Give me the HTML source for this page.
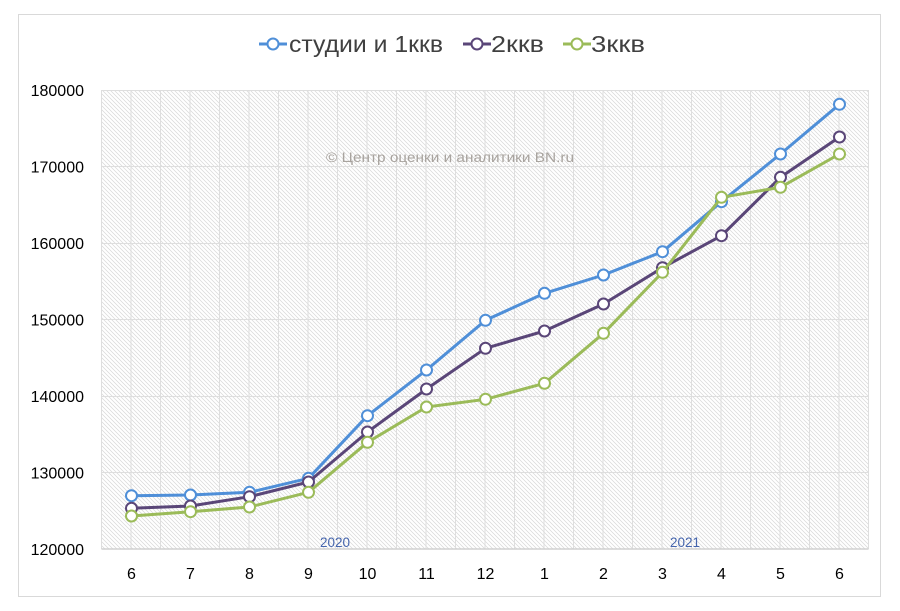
<!DOCTYPE html>
<html>
<head>
<meta charset="utf-8">
<style>
  html, body { margin: 0; padding: 0; background: #ffffff; }
  svg { display: block; }
  text { font-family: "Liberation Sans", "DejaVu Sans", sans-serif; }
</style>
</head>
<body>
<svg width="900" height="611" viewBox="0 0 900 611" xmlns="http://www.w3.org/2000/svg">
  <defs>
    <pattern id="hatch" patternUnits="userSpaceOnUse" width="4" height="4">
      <rect width="4" height="4" fill="#ffffff"/>
      <path d="M-1,-1 L5,5 M-1,3 L1,5 M3,-1 L5,1" stroke="#d8d8d8" stroke-width="0.75"/>
    </pattern>
  </defs>

  <!-- chart frame -->
  <rect x="18.5" y="14.5" width="862" height="582" fill="#ffffff" stroke="#d9d9d9" stroke-width="1"/>

  <!-- plot area -->
  <rect x="101.5" y="90" width="767" height="459" fill="url(#hatch)"/>

  <!-- gridlines -->
  <g stroke="#dedede" stroke-width="1">
    <line x1="101.5" y1="90.5" x2="868.5" y2="90.5"/>
    <line x1="101.5" y1="166.5" x2="868.5" y2="166.5"/>
    <line x1="101.5" y1="243.5" x2="868.5" y2="243.5"/>
    <line x1="101.5" y1="319.5" x2="868.5" y2="319.5"/>
    <line x1="101.5" y1="396.5" x2="868.5" y2="396.5"/>
    <line x1="101.5" y1="472.5" x2="868.5" y2="472.5"/>

    <line x1="101.5" y1="90" x2="101.5" y2="549"/>
    <line x1="131" y1="90" x2="131" y2="549"/>
    <line x1="160.5" y1="90" x2="160.5" y2="549"/>
    <line x1="190" y1="90" x2="190" y2="549"/>
    <line x1="219.5" y1="90" x2="219.5" y2="549"/>
    <line x1="249" y1="90" x2="249" y2="549"/>
    <line x1="278.5" y1="90" x2="278.5" y2="549"/>
    <line x1="308" y1="90" x2="308" y2="549"/>
    <line x1="337.5" y1="90" x2="337.5" y2="549"/>
    <line x1="367" y1="90" x2="367" y2="549"/>
    <line x1="396.5" y1="90" x2="396.5" y2="549"/>
    <line x1="426" y1="90" x2="426" y2="549"/>
    <line x1="455.5" y1="90" x2="455.5" y2="549"/>
    <line x1="485" y1="90" x2="485" y2="549"/>
    <line x1="514.5" y1="90" x2="514.5" y2="549"/>
    <line x1="544" y1="90" x2="544" y2="549"/>
    <line x1="573.5" y1="90" x2="573.5" y2="549"/>
    <line x1="603" y1="90" x2="603" y2="549"/>
    <line x1="632.5" y1="90" x2="632.5" y2="549"/>
    <line x1="662" y1="90" x2="662" y2="549"/>
    <line x1="691.5" y1="90" x2="691.5" y2="549"/>
    <line x1="721" y1="90" x2="721" y2="549"/>
    <line x1="750.5" y1="90" x2="750.5" y2="549"/>
    <line x1="780" y1="90" x2="780" y2="549"/>
    <line x1="809.5" y1="90" x2="809.5" y2="549"/>
    <line x1="839" y1="90" x2="839" y2="549"/>
    <line x1="868.5" y1="90" x2="868.5" y2="549"/>
  </g>
  <line x1="101.5" y1="549" x2="868.5" y2="549" stroke="#d0d0d0" stroke-width="1.5"/>

  <!-- watermark -->
  <text x="450" y="162" font-size="14" fill="#a8a39e" text-anchor="middle" textLength="248" lengthAdjust="spacingAndGlyphs">© Центр оценки и аналитики BN.ru</text>

  <!-- year labels -->
  <text x="335" y="547" font-size="13.5" fill="#4565ad" text-anchor="middle">2020</text>
  <text x="685" y="547" font-size="13.5" fill="#4565ad" text-anchor="middle">2021</text>

  <!-- y axis labels -->
  <g font-size="16" fill="#000000" text-anchor="end">
    <text x="84" y="96">180000</text>
    <text x="84" y="172.5">170000</text>
    <text x="84" y="249">160000</text>
    <text x="84" y="325.5">150000</text>
    <text x="84" y="402">140000</text>
    <text x="84" y="478.5">130000</text>
    <text x="84" y="555">120000</text>
  </g>

  <!-- x axis labels -->
  <g font-size="16" fill="#000000" text-anchor="middle">
    <text x="131.5" y="579">6</text>
    <text x="190.5" y="579">7</text>
    <text x="249.5" y="579">8</text>
    <text x="308.5" y="579">9</text>
    <text x="367.5" y="579">10</text>
    <text x="426.5" y="579">11</text>
    <text x="485.5" y="579">12</text>
    <text x="544.5" y="579">1</text>
    <text x="603.5" y="579">2</text>
    <text x="662.5" y="579">3</text>
    <text x="721.5" y="579">4</text>
    <text x="780.5" y="579">5</text>
    <text x="839.5" y="579">6</text>
  </g>

  <!-- series 1: blue -->
  <g>
    <polyline fill="none" stroke="#4f8fd8" stroke-width="3" stroke-linejoin="round"
      points="131.5,495.7 190.5,495 249.5,492.3 308.5,478.3 367.5,415.7 426.5,370 485.5,320.3 544.5,293.3 603.5,275 662.5,251.7 721.5,201.7 780.5,154 839.5,104.3"/>
    <g fill="#ffffff" stroke="#4f8fd8" stroke-width="2">
      <circle cx="131.5" cy="495.7" r="5.5"/>
      <circle cx="190.5" cy="495" r="5.5"/>
      <circle cx="249.5" cy="492.3" r="5.5"/>
      <circle cx="308.5" cy="478.3" r="5.5"/>
      <circle cx="367.5" cy="415.7" r="5.5"/>
      <circle cx="426.5" cy="370" r="5.5"/>
      <circle cx="485.5" cy="320.3" r="5.5"/>
      <circle cx="544.5" cy="293.3" r="5.5"/>
      <circle cx="603.5" cy="275" r="5.5"/>
      <circle cx="662.5" cy="251.7" r="5.5"/>
      <circle cx="721.5" cy="201.7" r="5.5"/>
      <circle cx="780.5" cy="154" r="5.5"/>
      <circle cx="839.5" cy="104.3" r="5.5"/>
    </g>
  </g>

  <!-- series 2: purple -->
  <g>
    <polyline fill="none" stroke="#5a4678" stroke-width="3" stroke-linejoin="round"
      points="131.5,508.3 190.5,506 249.5,496.7 308.5,482 367.5,432 426.5,389 485.5,348.3 544.5,331 603.5,304 662.5,267.7 721.5,235.7 780.5,177.3 839.5,137"/>
    <g fill="#ffffff" stroke="#5a4678" stroke-width="2">
      <circle cx="131.5" cy="508.3" r="5.5"/>
      <circle cx="190.5" cy="506" r="5.5"/>
      <circle cx="249.5" cy="496.7" r="5.5"/>
      <circle cx="308.5" cy="482" r="5.5"/>
      <circle cx="367.5" cy="432" r="5.5"/>
      <circle cx="426.5" cy="389" r="5.5"/>
      <circle cx="485.5" cy="348.3" r="5.5"/>
      <circle cx="544.5" cy="331" r="5.5"/>
      <circle cx="603.5" cy="304" r="5.5"/>
      <circle cx="662.5" cy="267.7" r="5.5"/>
      <circle cx="721.5" cy="235.7" r="5.5"/>
      <circle cx="780.5" cy="177.3" r="5.5"/>
      <circle cx="839.5" cy="137" r="5.5"/>
    </g>
  </g>

  <!-- series 3: green -->
  <g>
    <polyline fill="none" stroke="#9bbb59" stroke-width="3" stroke-linejoin="round"
      points="131.5,516 190.5,511.7 249.5,507 308.5,492.3 367.5,442.3 426.5,407 485.5,399.3 544.5,383.3 603.5,333.3 662.5,272.3 721.5,197.3 780.5,187.3 839.5,154"/>
    <g fill="#ffffff" stroke="#9bbb59" stroke-width="2">
      <circle cx="131.5" cy="516" r="5.5"/>
      <circle cx="190.5" cy="511.7" r="5.5"/>
      <circle cx="249.5" cy="507" r="5.5"/>
      <circle cx="308.5" cy="492.3" r="5.5"/>
      <circle cx="367.5" cy="442.3" r="5.5"/>
      <circle cx="426.5" cy="407" r="5.5"/>
      <circle cx="485.5" cy="399.3" r="5.5"/>
      <circle cx="544.5" cy="383.3" r="5.5"/>
      <circle cx="603.5" cy="333.3" r="5.5"/>
      <circle cx="662.5" cy="272.3" r="5.5"/>
      <circle cx="721.5" cy="197.3" r="5.5"/>
      <circle cx="780.5" cy="187.3" r="5.5"/>
      <circle cx="839.5" cy="154" r="5.5"/>
    </g>
  </g>

  <!-- legend -->
  <g>
    <line x1="259" y1="44" x2="287" y2="44" stroke="#4f8fd8" stroke-width="3"/>
    <circle cx="273" cy="44" r="5.5" fill="#ffffff" stroke="#4f8fd8" stroke-width="2"/>
    <text x="289" y="52" font-size="23" fill="#404040" textLength="154" lengthAdjust="spacingAndGlyphs">студии и 1ккв</text>

    <line x1="463" y1="44" x2="491" y2="44" stroke="#5a4678" stroke-width="3"/>
    <circle cx="477" cy="44" r="5.5" fill="#ffffff" stroke="#5a4678" stroke-width="2"/>
    <text x="491" y="52" font-size="23" fill="#404040" textLength="53" lengthAdjust="spacingAndGlyphs">2ккв</text>

    <line x1="563" y1="44" x2="591" y2="44" stroke="#9bbb59" stroke-width="3"/>
    <circle cx="577" cy="44" r="5.5" fill="#ffffff" stroke="#9bbb59" stroke-width="2"/>
    <text x="591" y="52" font-size="23" fill="#404040" textLength="54" lengthAdjust="spacingAndGlyphs">3ккв</text>
  </g>
</svg>
</body>
</html>
